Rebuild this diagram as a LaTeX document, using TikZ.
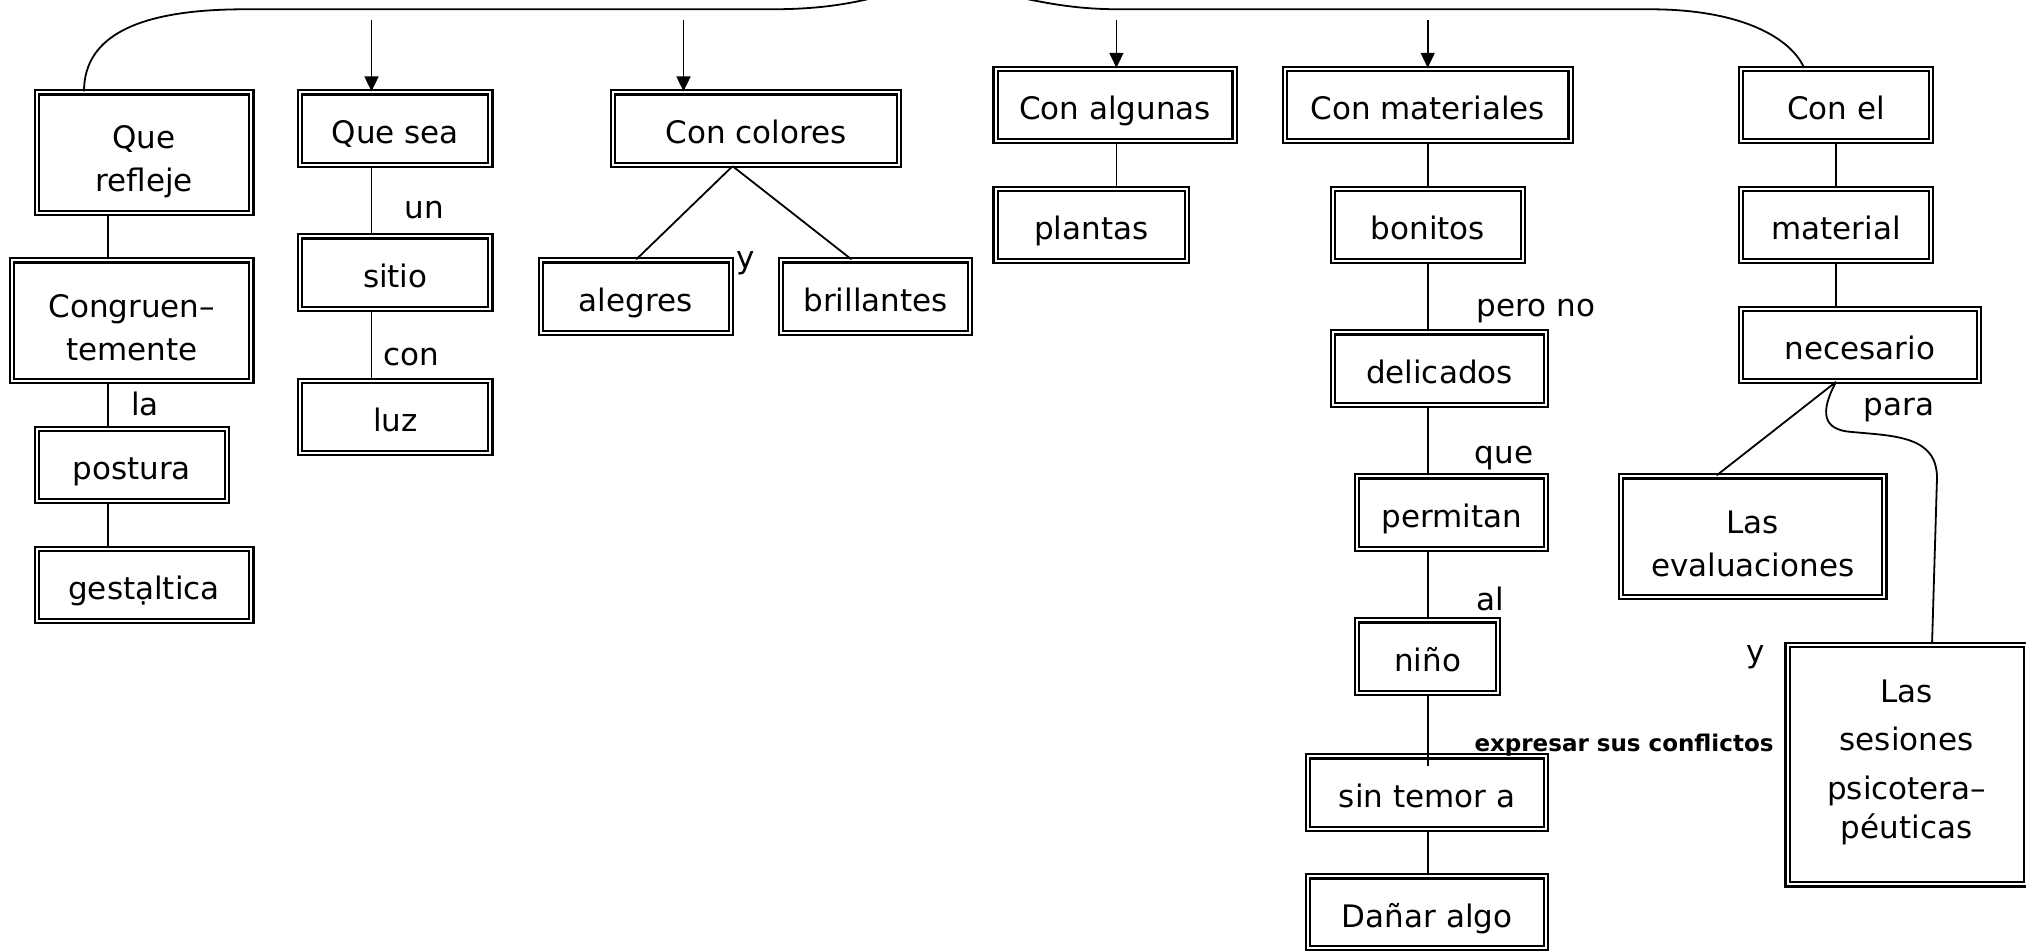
\documentclass[tikz,border=0pt]{standalone}
\usepackage{fontspec}
\setmainfont{DejaVu Sans}
\usetikzlibrary{arrows.meta,calc}
\tikzset{
  box/.style={draw, line width=1.1pt, double=white, double distance=1pt, inner sep=0pt, font=\fontsize{15.5}{21.5}\selectfont},
  lbl/.style={inner sep=0pt, font=\fontsize{15.5}{18}\selectfont},
  blbl/.style={inner sep=0pt, font=\fontsize{11.5}{13}\bfseries},
  conn/.style={line width=0.9pt},
  arr/.style={line width=0.9pt, -{Triangle[length=7.5pt,width=7pt]}}
}
\newcommand\bx[7][3.2pt]{%
  \pgfmathsetmacro\bxW{((#5)-(#3)-6.4)*0.5}%
  \pgfmathsetmacro\bxH{((#6)-(#4)-6.4)*0.5}%
  \node[box, minimum width=\bxW pt, minimum height=\bxH pt] (#2) at ({((#3)+(#5))/2},{((#4)+(#6))/2})
    {\raisebox{-#1}[\height][\depth]{\begin{tabular}{@{}c@{}}#7\end{tabular}}};}
\begin{document}
\begin{tikzpicture}[x=0.5pt,y=-0.5pt]
\useasboundingbox (0,0) rectangle (2026,951);
% boxes
\bx[4.5pt]{qr}{33.6}{89.3}{254.5}{216}{Que\\refleje}
\bx[4.8pt]{cg}{9}{257.3}{254.5}{384}{Congruen–\\temente}
\bx{po}{33.6}{425.7}{230}{504}{postura}
\bx{ge}{33.6}{545.7}{254.5}{624}{gestạltica}
\bx{qs}{297}{89.3}{493.6}{168.3}{Que sea}
\bx{si}{297}{233.3}{493.6}{312.3}{sitio}
\bx{lu}{297}{377.7}{493.6}{456}{luz}
\bx{cc}{610}{89.3}{902}{168.3}{Con colores}
\bx{ale}{537.5}{257.3}{734}{336}{alegres}
\bx{br}{778}{257.3}{973}{336}{brillantes}
\bx{ca}{992.3}{65.7}{1237.8}{144}{Con algunas}
\bx{pl}{992.3}{185.7}{1190}{264}{plantas}
\bx{cm}{1281.8}{65.7}{1573.8}{144}{Con materiales}
\bx{bo}{1329.6}{185.7}{1526}{264}{bonitos}
\bx{de}{1329.6}{329.3}{1549.2}{408.3}{delicados}
\bx{pe}{1354}{473.3}{1549.2}{552.3}{permitan}
\bx{ni}{1354}{617.3}{1501.4}{696}{niño}
\bx{st}{1305}{753.3}{1549.2}{832.3}{sin temor a}
\bx{da}{1305}{873.3}{1549.2}{951}{Dañar algo}
\bx{ce}{1737.9}{65.7}{1934.3}{144}{Con el}
\bx{ma}{1737.9}{185.7}{1934.3}{264}{material}
\bx{ne}{1737.9}{305.7}{1982}{384}{necesario}
\bx[4.8pt]{ev}{1617.7}{473.3}{1887.5}{600}{Las\\evaluaciones}
\bx[-1.5pt]{se}{1784.3}{641.7}{2029}{887.7}{Las\\[2.5pt]sesiones\\[3pt]psicotera–\\[-2pt]péuticas}
% labels
\node[lbl] (lun) at (424,210) {un};
\node[lbl] (lcon) at (411,357) {con};
\node[lbl] (lla) at (145,404) {la};
\node[lbl] (ly1) at (745.5,263) {y};
\node[lbl] (lpero) at (1536,311) {pero no};
\node[lbl] (lque) at (1504,458) {que};
\node[lbl] (lal) at (1490,599) {al};
\node[blbl] (lexp) at (1624,745.5) {expresar sus conflictos};
\node[lbl] (lpara) at (1899,410) {para};
\node[lbl] (ly2) at (1756,657) {y};
% column coordinates
\coordinate (cA) at (108,0);
\coordinate (cB) at (371.5,0);
\coordinate (cC) at (1116.4,0);
\coordinate (cM) at (1427.7,0);
\coordinate (cE) at (1836,0);
% free ends at the top
\coordinate (rootL) at (885,-5);
\coordinate (rootR) at (1008,-5);
\coordinate (aB) at (371.5,20);
\coordinate (aC) at (683.5,20);
\coordinate (aD) at (1116.4,20);
\coordinate (aE) at (1427.7,20);
% top curves
\draw[conn] ($(qr.north -| cA)+(-24,0)$) .. controls (84,35) and (140,9.3) .. (245,9.3) -- (770,9.3) .. controls (820,9.3) and (850,4) .. (rootL);
\draw[conn] (rootR) .. controls (1045,3) and (1075,9.3) .. (1120,9.3) -- (1650,9.3) .. controls (1745,9.3) and (1792,40) .. ($(ce.north -| cE)+(-32,0)$);
% arrows
\draw[arr] (aB) -- (qs.north -| cB);
\draw[arr] (aC) -- (cc.north -| aC);
\draw[arr] (aD) -- (ca.north -| cC);
\draw[arr] (aE) -- (cm.north -| cM);
% column A
\draw[conn] (qr.south -| cA) -- (cg.north -| cA);
\draw[conn] (cg.south -| cA) -- (po.north -| cA);
\draw[conn] (po.south -| cA) -- (ge.north -| cA);
% column B
\draw[conn] (qs.south -| cB) -- (si.north -| cB);
\draw[conn] (si.south -| cB) -- (lu.north -| cB);
% con colores
\coordinate (ccs) at (732.6,0);
\draw[conn] (cc.south -| ccs) -- ($(ale.north)+(0.5,0)$);
\draw[conn] (cc.south -| ccs) -- ($(br.north)+(-24,0)$);
% con algunas
\draw[conn] (ca.south -| cC) -- (pl.north -| cC);
% con materiales column
\draw[conn] (cm.south -| cM) -- (bo.north -| cM);
\draw[conn] (bo.south -| cM) -- (de.north -| cM);
\draw[conn] (de.south -| cM) -- (pe.north -| cM);
\draw[conn] (pe.south -| cM) -- (ni.north -| cM);
\draw[conn] (ni.south -| cM) -- ($(st.north -| cM)+(0,11)$);
\draw[conn] (st.south -| cM) -- (da.north -| cM);
% con el column
\draw[conn] (ce.south -| cE) -- (ma.north -| cE);
\draw[conn] (ma.south -| cE) -- (ne.north -| cE);
\draw[conn] (ne.south -| cE) -- ($(ev.north)+(-36,0)$);
\draw[conn] (ne.south -| cE) .. controls (1820,412) and (1822,430) .. (1852,432) .. controls (1895,436) and (1937,436) .. (1937,478) -- ($(se.north)+(25.4,0)$);
\end{tikzpicture}
\end{document}
